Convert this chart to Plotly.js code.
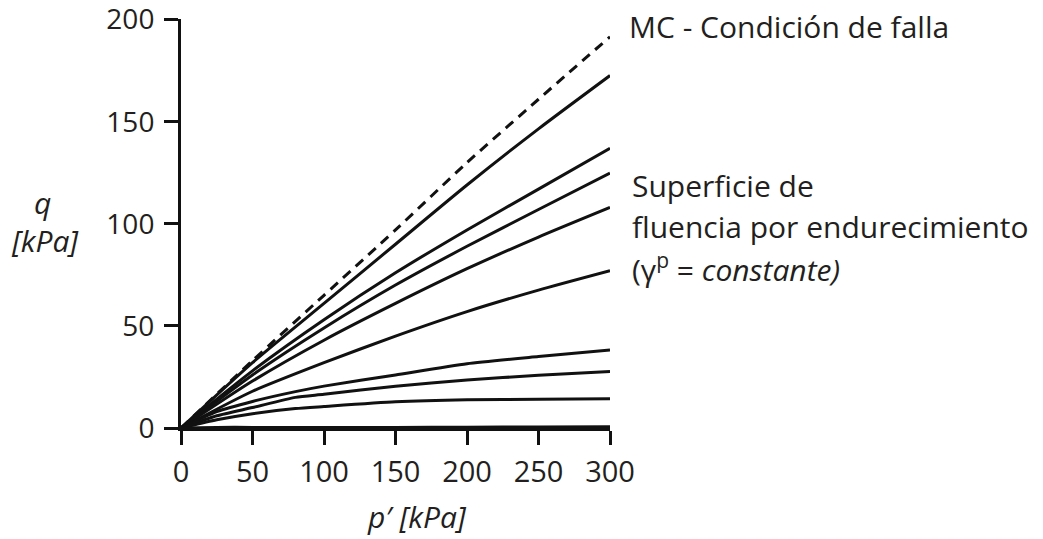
<!DOCTYPE html>
<html>
<head>
<meta charset="utf-8">
<script src="https://cdn.plot.ly/plotly-3.0.1.min.js"></script>
<style>html,body{margin:0;padding:0;background:#fff;}</style>
</head>
<body>
<div id="chart" style="width:1043px;height:539px;"></div>
<script>
// p' [kPa] sample points
const pValues = [0, 50, 100, 150, 200, 250, 300];
const pKink = [0, 25, 50, 80, 100, 150, 200, 250, 300];

// Mohr-Coulomb failure line (dashed)
const qFailure = [0, 33, 65, 97, 130, 161, 191.6];
// Hardening yield surfaces (gamma^p = constant)
const qYield1 = [0, 32, 61, 90, 119, 146.5, 172.6];
const qYield2 = [0, 28, 53, 76, 97, 117, 137];
const qYield3 = [0, 26, 49, 70, 89, 107, 124.8];
const qYield4 = [0, 23, 43, 61, 78, 93.5, 108];
const qYield5 = [0, 18, 32, 45, 57, 67.5, 77];
const qYield6 = [0, 8, 13, 17.8, 20.5, 26, 31.5, 35, 38.2];
const qYield7 = [0, 6, 10, 15, 16.5, 20.5, 23.5, 25.8, 27.7];
const qYield8 = [0, 4, 7, 9.5, 10.5, 12.8, 13.8, 14.1, 14.3];
const qYield9 = [0, 0.3, 0.3, 0.3, 0.2, 0.3, 0.4, 0.5, 0.6];

const xTicks = [0, 50, 100, 150, 200, 250, 300];
const yTicks = [0, 50, 100, 150, 200];

const txtColor = '#231f20';
const FONT = '"Open Sans", "Noto Sans", sans-serif';

function line(x, y, dash) {
  return {
    x: x, y: y, type: 'scatter', mode: 'lines',
    line: {color: '#111', width: 3, dash: dash || 'solid', shape: 'spline', smoothing: 0.6},
    hoverinfo: 'skip', showlegend: false, cliponaxis: false
  };
}

const data = [
  line(pValues, qFailure, '10px,7px'),
  line(pValues, qYield1),
  line(pValues, qYield2),
  line(pValues, qYield3),
  line(pValues, qYield4),
  line(pValues, qYield5),
  line(pKink, qYield6),
  line(pKink, qYield7),
  line(pKink, qYield8),
  line(pKink, qYield9)
];

const L = 181, R = 610, T = 19, B = 428;
function px(x) { return (x - L) / (R - L); }
function py(y) { return (B - y) / (B - T); }

function ann(text, x, y, xanchor, italic, size) {
  return {
    text: italic ? '<i>' + text + '</i>' : text,
    xref: 'paper', yref: 'paper', x: px(x), y: py(y),
    xanchor: xanchor || 'left', yanchor: 'middle',
    showarrow: false,
    font: {family: FONT, size: size || 30, color: txtColor}
  };
}

const layout = {
  width: 1043, height: 539,
  margin: {l: L, r: 1043 - R, t: T, b: 539 - B},
  paper_bgcolor: '#fff', plot_bgcolor: '#fff',
  font: {family: FONT, size: 28, color: txtColor},
  xaxis: {
    range: [0, 300], tickmode: 'array', tickvals: xTicks, ticktext: xTicks.map(String),
    showgrid: false, zeroline: false, showline: true, linecolor: '#111', linewidth: 3,
    ticks: 'outside', ticklen: 14, tickwidth: 3, tickcolor: '#111',
    tickfont: {family: FONT, size: 29, color: txtColor}, ticklabelstandoff: 2,
    ticklabeloverflow: 'allow', fixedrange: true
  },
  yaxis: {
    range: [0, 200.3], tickmode: 'array', tickvals: yTicks, ticktext: yTicks.map(String),
    showgrid: false, zeroline: false, showline: true, linecolor: '#111', linewidth: 3,
    ticks: 'outside', ticklen: 14, tickwidth: 3, tickcolor: '#111',
    tickfont: {family: FONT, size: 28, color: txtColor}, ticklabelstandoff: 4,
    ticklabeloverflow: 'allow', fixedrange: true
  },
  annotations: [
    ann("p′ [kPa]", 417, 516, 'center', true),
    ann("q", 42, 203, 'center', true),
    ann("[kPa]", 45, 240, 'center', true),
    ann("MC - Condición de falla", 627, 27, 'left', false),
    ann("Superficie de", 630, 185, 'left', false),
    ann("fluencia por endurecimiento", 630, 226, 'left', false),
    ann("(γ<sup>p</sup> = <i>constante)</i>", 630, 268, 'left', false)
  ]
};

Plotly.newPlot('chart', data, layout, {displayModeBar: false, staticPlot: true});
</script>
</body>
</html>
